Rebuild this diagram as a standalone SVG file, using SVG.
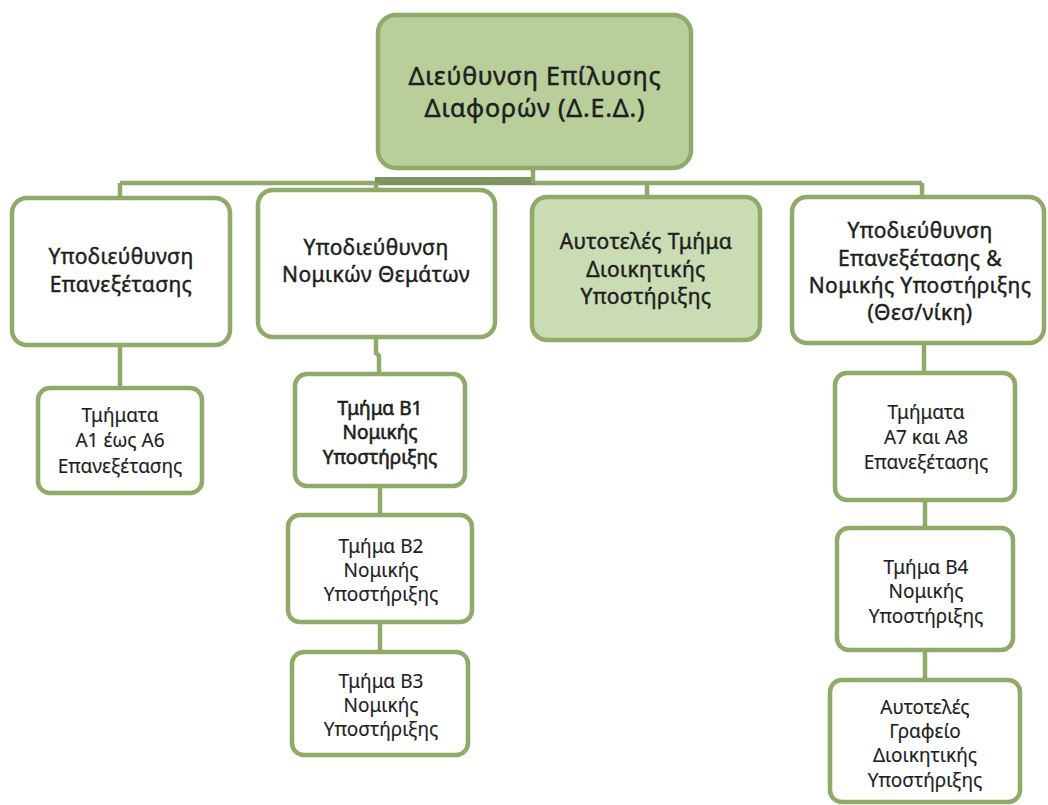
<svg xmlns="http://www.w3.org/2000/svg" width="1048" height="805" viewBox="0 0 1048 805">
<style>
.box{fill:#ffffff;stroke:#8faa69;stroke-width:4.5}
.main{fill:#b8cf9b;stroke:#8faa69;stroke-width:4.5}
.light{fill:#cadcb4;stroke:#8faa69;stroke-width:4.5}
.ln{stroke:#8faa69;stroke-width:4.5;fill:none}
.thick{stroke:#7d9360;stroke-width:8;fill:none}
text{font-family:"Noto Sans","DejaVu Sans",sans-serif;fill:#1e1e1e;text-anchor:middle}
.t1{font-size:25px;letter-spacing:0.8px;stroke:#1e1e1e;stroke-width:0.5}
.t2{font-size:21px;letter-spacing:0.4px;stroke:#1e1e1e;stroke-width:0.45}
.t3{font-size:19px;stroke:#1e1e1e;stroke-width:0.15}
.b{stroke-width:0.6}
</style>
<rect width="1048" height="805" fill="#ffffff"/>
<g id="connectors">
<path class="ln" d="M120 183 H922"/>
<path class="thick" d="M375 181 H535"/>
<path class="ln" d="M533 168 V183"/>
<path class="ln" d="M120 183 V198"/>
<path class="ln" d="M376 183 V190"/>
<path class="ln" d="M647 183 V197"/>
<path class="ln" d="M922 183 V197"/>
<path class="ln" d="M120 345 V388"/>
<path class="ln" d="M376 337 V353 L379 356 V374"/>
<path class="ln" d="M380 486 V515"/>
<path class="ln" d="M380 622 V652"/>
<path class="ln" d="M924 343 V373"/>
<path class="ln" d="M925 500 V528"/>
<path class="ln" d="M925 650 V680"/>
</g>
<g id="n0">
<rect class="main" x="378" y="15" width="313" height="153" rx="18"/>
<text class="t1" x="535" y="85">Διεύθυνση Επίλυσης</text>
<text class="t1" x="535" y="117">Διαφορών (Δ.Ε.Δ.)</text>
</g>
<g id="n1">
<rect class="box" x="12" y="198" width="218" height="147" rx="15"/>
<text class="t2" x="121" y="264">Υποδιεύθυνση</text>
<text class="t2" x="121" y="292">Επανεξέτασης</text>
</g>
<g id="n2">
<rect class="box" x="258" y="190" width="237" height="147" rx="15"/>
<text class="t2" x="376" y="255">Υποδιεύθυνση</text>
<text class="t2" x="376" y="282">Νομικών Θεμάτων</text>
</g>
<g id="n3">
<rect class="light" x="532" y="197" width="228" height="143" rx="15"/>
<text class="t2" x="646" y="249">Αυτοτελές Τμήμα</text>
<text class="t2" x="646" y="277">Διοικητικής</text>
<text class="t2" x="646" y="304">Υποστήριξης</text>
</g>
<g id="n4">
<rect class="box" x="792" y="197" width="252" height="146" rx="15"/>
<text class="t2" x="920" y="238">Υποδιεύθυνση</text>
<text class="t2" x="920" y="266">Επανεξέτασης &amp;</text>
<text class="t2" x="920" y="293">Νομικής Υποστήριξης</text>
<text class="t2" x="920" y="320">(Θεσ/νίκη)</text>
</g>
<g id="n5">
<rect class="box" x="38" y="388" width="164" height="105" rx="12"/>
<text class="t3" x="120" y="422">Τμήματα</text>
<text class="t3" x="120" y="447">Α1 έως Α6</text>
<text class="t3" x="120" y="473">Επανεξέτασης</text>
</g>
<g id="n6">
<rect class="box" x="295" y="374" width="170" height="112" rx="12"/>
<text class="t3 b" x="380" y="415">Τμήμα Β1</text>
<text class="t3 b" x="380" y="439">Νομικής</text>
<text class="t3 b" x="380" y="464">Υποστήριξης</text>
</g>
<g id="n7">
<rect class="box" x="288" y="515" width="184" height="107" rx="12"/>
<text class="t3" x="381" y="553">Τμήμα Β2</text>
<text class="t3" x="381" y="577">Νομικής</text>
<text class="t3" x="381" y="601">Υποστήριξης</text>
</g>
<g id="n8">
<rect class="box" x="292" y="652" width="176" height="103" rx="12"/>
<text class="t3" x="381" y="688">Τμήμα Β3</text>
<text class="t3" x="381" y="712">Νομικής</text>
<text class="t3" x="381" y="736">Υποστήριξης</text>
</g>
<g id="n9">
<rect class="box" x="835" y="373" width="180" height="127" rx="12"/>
<text class="t3" x="926" y="419">Τμήματα</text>
<text class="t3" x="926" y="444">Α7 και Α8</text>
<text class="t3" x="926" y="469">Επανεξέτασης</text>
</g>
<g id="n10">
<rect class="box" x="837" y="528" width="176" height="122" rx="12"/>
<text class="t3" x="926" y="574">Τμήμα Β4</text>
<text class="t3" x="926" y="598">Νομικής</text>
<text class="t3" x="926" y="623">Υποστήριξης</text>
</g>
<g id="n11">
<rect class="box" x="830" y="680" width="190" height="122" rx="12"/>
<text class="t3" x="925" y="714">Αυτοτελές</text>
<text class="t3" x="925" y="738">Γραφείο</text>
<text class="t3" x="925" y="762">Διοικητικής</text>
<text class="t3" x="925" y="787">Υποστήριξης</text>
</g>
</svg>
